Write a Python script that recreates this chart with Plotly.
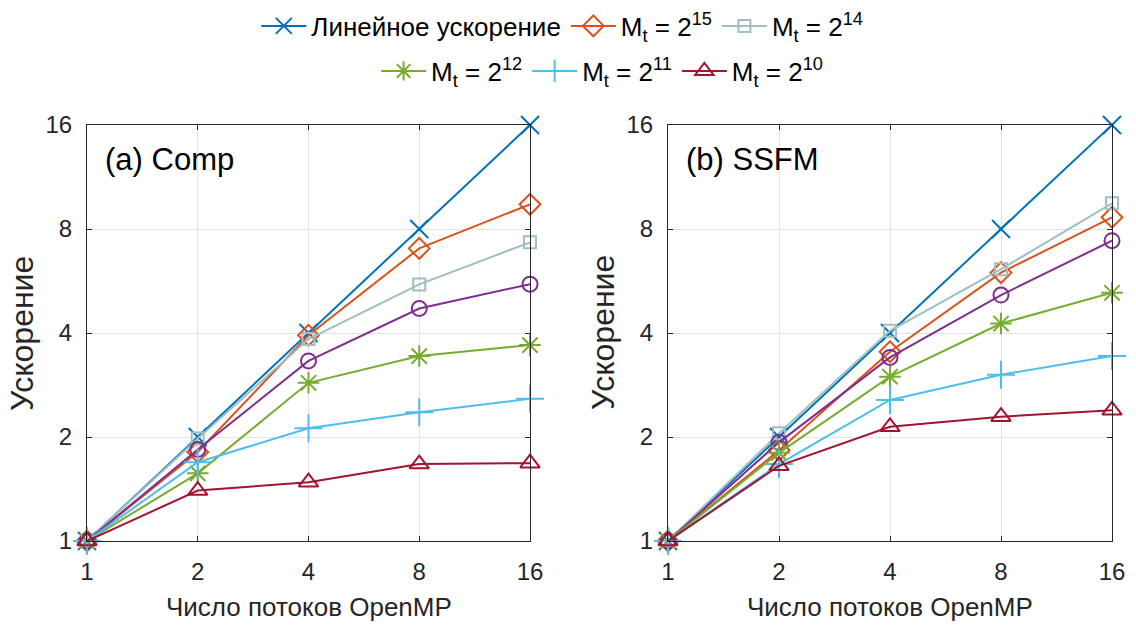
import plotly.graph_objects as go

threads = [1, 2, 4, 8, 16]
tick_vals = [1, 2, 4, 8, 16]
tick_text = ["1", "2", "4", "8", "16"]

names = ["Линейное ускорение",
         "M<sub>t</sub> = 2<sup>15</sup>",
         "M<sub>t</sub> = 2<sup>14</sup>",
         "M<sub>t</sub> = 2<sup>13</sup>",
         "M<sub>t</sub> = 2<sup>12</sup>",
         "M<sub>t</sub> = 2<sup>11</sup>",
         "M<sub>t</sub> = 2<sup>10</sup>"]

# (a) Comp
comp_linear = [1, 2, 4, 8, 16]
comp_m15 = [1, 1.81, 3.94, 7.03, 9.43]
comp_m14 = [1, 1.98, 3.84, 5.53, 7.32]
comp_m13 = [1, 1.84, 3.32, 4.71, 5.54]
comp_m12 = [1, 1.57, 2.87, 3.43, 3.69]
comp_m11 = [1, 1.69, 2.12, 2.36, 2.58]
comp_m10 = [1, 1.40, 1.48, 1.67, 1.68]

# (b) SSFM
ssfm_linear = [1, 2, 4, 8, 16]
ssfm_m15 = [1, 1.83, 3.53, 5.98, 8.65]
ssfm_m14 = [1, 2.05, 4.06, 6.12, 9.49]
ssfm_m13 = [1, 1.93, 3.40, 5.15, 7.40]
ssfm_m12 = [1, 1.80, 2.99, 4.26, 5.23]
ssfm_m11 = [1, 1.67, 2.56, 3.03, 3.43]
ssfm_m10 = [1, 1.65, 2.14, 2.29, 2.39]

panel_labels = ["(a) Comp", "(b) SSFM"]
x_title = "Число потоков OpenMP"
y_title = "Ускорение"

colors = ["#0072BD", "#D95319", "#9FBFC1", "#7E2F8E", "#77AC30", "#4DBEEE", "#A2142F"]
symbols = ["x-thin-open", "diamond-open", "square-open", "circle-open",
           "asterisk-open", "cross-thin-open", "triangle-up-open"]
sizes = [18, 16, 12, 15, 18, 20, 17]
legend_ids = ["legend", "legend", "legend", None, "legend2", "legend2", "legend2"]

comp = [comp_linear, comp_m15, comp_m14, comp_m13, comp_m12, comp_m11, comp_m10]
ssfm = [ssfm_linear, ssfm_m15, ssfm_m14, ssfm_m13, ssfm_m12, ssfm_m11, ssfm_m10]

fig = go.Figure()
for panel, (data, xa, ya) in enumerate([(comp, "x", "y"), (ssfm, "x2", "y2")]):
    for i, vals in enumerate(data):
        show = panel == 0 and legend_ids[i] is not None
        fig.add_trace(go.Scatter(
            x=threads, y=vals, name=names[i], mode="lines+markers",
            xaxis=xa, yaxis=ya, cliponaxis=False,
            line=dict(color=colors[i], width=2),
            marker=dict(symbol=symbols[i], size=sizes[i], color=colors[i],
                        line=dict(color=colors[i], width=2)),
            showlegend=show,
            legend=legend_ids[i] if legend_ids[i] else "legend",
        ))

font_family = "Liberation Sans, Arial, Helvetica, sans-serif"
axis_common = dict(
    type="log", range=[0, 1.20412], tickvals=tick_vals, ticktext=tick_text,
    showgrid=True, gridcolor="#E3E3E3", gridwidth=1,
    showline=True, linecolor="#262626", linewidth=1, mirror="ticks",
    ticks="inside", ticklen=5, tickcolor="#262626",
    tickfont=dict(size=24, color="#262626", family=font_family),
    zeroline=False, automargin=False,
)
xaxis_extra = dict(ticklabelstandoff=9)
yaxis_extra = dict(ticklabelstandoff=9)

W, H = 1136, 626
xdom1 = [87 / W, 530 / W]
xdom2 = [668 / W, 1112 / W]
ydom = [1 - 541 / H, 1 - 125 / H]

annotations = []
for k, xd in enumerate([xdom1, xdom2]):
    annotations.append(dict(text=panel_labels[k], xref="paper", yref="paper",
                            x=xd[0] + 16 / W, y=1 - 159 / H,
                            xanchor="left", yanchor="middle", showarrow=False,
                            font=dict(size=31, color="#000000")))
    annotations.append(dict(text=x_title, xref="paper", yref="paper",
                            x=(xd[0] + xd[1]) / 2, y=1 - 607 / H,
                            xanchor="center", yanchor="middle", showarrow=False,
                            font=dict(size=26, color="#262626")))
    annotations.append(dict(text=y_title, xref="paper", yref="paper",
                            x=xd[0] - 65 / W, y=(ydom[0] + ydom[1]) / 2,
                            xanchor="center", yanchor="middle", showarrow=False,
                            textangle=-90,
                            font=dict(size=32, color="#262626")))

fig.update_layout(
    width=W, height=H,
    margin=dict(l=0, r=0, t=0, b=0),
    paper_bgcolor="white", plot_bgcolor="white",
    font=dict(family=font_family, color="#262626"),
    xaxis=dict(domain=xdom1, anchor="y", **axis_common, **xaxis_extra),
    yaxis=dict(domain=ydom, anchor="x", **axis_common, **yaxis_extra),
    xaxis2=dict(domain=xdom2, anchor="y2", **axis_common, **xaxis_extra),
    yaxis2=dict(domain=ydom, anchor="x2", **axis_common, **yaxis_extra),
    legend=dict(orientation="h", x=0.495, xanchor="center", y=1 - 26 / H, yanchor="middle",
                font=dict(size=26, color="#000000"),
                bgcolor="rgba(0,0,0,0)", itemwidth=45, tracegroupgap=0),
    legend2=dict(orientation="h", x=0.53, xanchor="center", y=1 - 71 / H, yanchor="middle",
                 font=dict(size=26, color="#000000"),
                 bgcolor="rgba(0,0,0,0)", itemwidth=45, tracegroupgap=0),
    annotations=annotations,
)

fig.write_html("out.html")
